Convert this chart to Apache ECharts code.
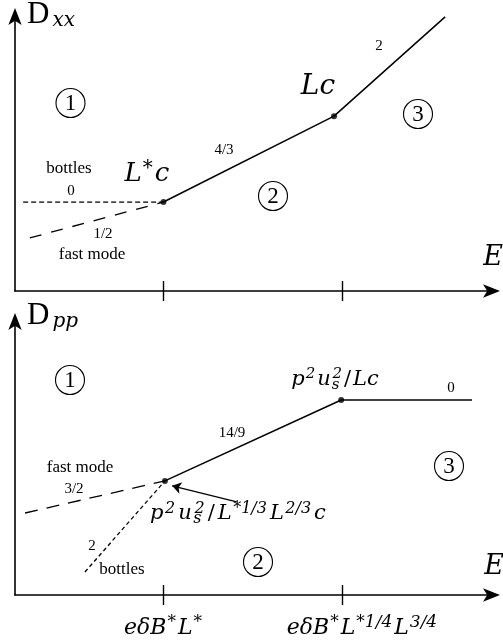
<!DOCTYPE html>
<html><head><meta charset="utf-8">
<script src="https://cdn.jsdelivr.net/npm/echarts@6/dist/echarts.min.js"></script>
<style>html,body{margin:0;padding:0;background:#fff}#c{width:503px;height:641px}</style>
</head><body><div id="c"></div>
<script>
// ---- Data (schematic units: x 0..100, y 0..100 in each panel) ----
const xTicks = [31, 68.3];
// Top panel: D_xx
const dxxBottles = [[1.7, 32.0], [31, 32.0]];
const dxxFastMode = [[3.1, 19.1], [31, 32.0]];
const dxxMain = [[31, 32.0], [66.6, 62.9], [89.8, 98.6]];
const dxxBreaks = [[31, 32.0], [66.6, 62.9]];
// Bottom panel: D_pp
const dppFastMode = [[2.1, 29.6], [31.3, 41.2]];
const dppBottles = [[14.6, 8.3], [31.3, 41.2]];
const dppMain = [[31.3, 41.2], [68.1, 70.4], [95.4, 70.4]];
const dppBreaks = [[31.3, 41.2], [68.1, 70.4]];
const dppPointer = [[46.3, 33.6], [32.8, 39.4]];
// Slope / regime labels
const slopesTop = ['0', '1/2', '4/3', '2'];
const slopesBottom = ['3/2', '2', '14/9', '0'];
const regions = ['1', '2', '3'];

const SERIF = "'Liberation Serif', 'Times New Roman', serif";
const MATH = "'DejaVu Serif', serif";
const chart = echarts.init(document.getElementById('c'), null, {renderer: 'canvas'});

function xAxes(gi) {
  const tick = {color: '#000', width: 1.4};
  return [
    {gridIndex: gi, type: 'value', min: 0, max: 100, position: 'bottom',
      axisLine: {show: true, onZero: false, symbol: ['none', 'arrow'], symbolSize: [10, 17], symbolOffset: [0, 6], lineStyle: {color: '#000', width: 1.6}},
      axisTick: {show: true, customValues: xTicks, length: 10, lineStyle: tick},
      axisLabel: {show: false}, splitLine: {show: false}},
    {gridIndex: gi, type: 'value', min: 0, max: 100, position: 'bottom',
      axisLine: {show: false, onZero: false},
      axisTick: {show: true, inside: true, customValues: xTicks, length: 10, lineStyle: tick},
      axisLabel: {show: false}, splitLine: {show: false}}
  ];
}
function yAxis(gi) {
  return {gridIndex: gi, type: 'value', min: 0, max: 100,
    axisLine: {show: true, onZero: false, symbol: ['none', 'arrow'], symbolSize: [10, 17], symbolOffset: [0, 5], lineStyle: {color: '#000', width: 1.6}},
    axisTick: {show: false}, axisLabel: {show: false}, splitLine: {show: false}};
}
function lineS(xi, yi, data, type, width) {
  return {type: 'line', xAxisIndex: xi, yAxisIndex: yi, data, showSymbol: false, silent: true,
    lineStyle: {color: '#000', width: width || 1.4, type: type || 'solid'}, z: 3};
}
function dots(xi, yi, data) {
  return {type: 'scatter', xAxisIndex: xi, yAxisIndex: yi, data, symbolSize: 6, silent: true,
    itemStyle: {color: '#000'}, z: 4};
}

function T(x, y, text, opt) {
  return {type: 'text', x, y, z: 10, silent: true,
    style: Object.assign({text, fontFamily: SERIF, fontSize: 16, fill: '#000', align: 'center', verticalAlign: 'middle'}, opt || {})};
}
function C(cx, cy, label) {
  return {type: 'group', silent: true, children: [
    {type: 'circle', shape: {cx, cy, r: 14.5}, style: {fill: 'none', stroke: '#000', lineWidth: 1.1}},
    T(cx, cy + 0.5, label, {fontSize: 23})
  ]};
}
// rich styles for math
function mathRich(size, sup, lh, gap) {
  const g = gap || 0;
  return {
    i: {fontFamily: MATH, fontStyle: 'italic', fontSize: size, lineHeight: lh, padding: [0, g, 0, g]},
    r: {fontFamily: MATH, fontSize: size, lineHeight: lh, padding: [0, g, 0, g]},
    sp: {fontFamily: MATH, fontStyle: 'italic', fontSize: sup, lineHeight: lh - 11, verticalAlign: 'top', padding: [0, g, 0, 0]},
    sq: {fontFamily: MATH, fontStyle: 'italic', fontSize: sup, lineHeight: lh - 11, verticalAlign: 'top', padding: [0, g, 0, -7]},
    sb: {fontFamily: MATH, fontStyle: 'italic', fontSize: sup, lineHeight: lh - 11, verticalAlign: 'bottom'}
  };
}

const graphics = [
  // axis titles
  T(27, 15, '{d|D}{s|xx}', {align: 'left', rich: {
    d: {fontFamily: SERIF, fontSize: 31, lineHeight: 32},
    s: {fontFamily: MATH, fontStyle: 'italic', fontSize: 20, lineHeight: 20, verticalAlign: 'bottom', padding: [0, 0, 0, 3]}}}),
  T(27, 316, '{d|D}{s|pp}', {align: 'left', rich: {
    d: {fontFamily: SERIF, fontSize: 31, lineHeight: 32},
    s: {fontFamily: MATH, fontStyle: 'italic', fontSize: 20, lineHeight: 18, verticalAlign: 'bottom', padding: [0, 0, 0, 3]}}}),
  T(493, 258, 'E', {fontSize: 27, fontFamily: MATH, fontStyle: 'italic'}),
  T(494, 567, 'E', {fontSize: 27, fontFamily: MATH, fontStyle: 'italic'}),
  // top panel labels
  T(147, 174, '{i|L}{sp|*}{i|c}', {rich: mathRich(26, 20, 30, 1)}),
  T(318, 87, '{i|Lc}', {rich: mathRich(28, 20, 30, 1)}),
  T(69, 169, 'bottles', {fontSize: 17}),
  T(71, 191, slopesTop[0], {fontSize: 15}),
  T(103, 234, slopesTop[1], {fontSize: 15}),
  T(92, 255, 'fast mode', {fontSize: 17}),
  T(224, 150, slopesTop[2], {fontSize: 15}),
  T(379, 46, slopesTop[3], {fontSize: 15}),
  C(70.5, 103, regions[0]), C(273, 196, regions[1]), C(418, 114, regions[2]),
  // bottom panel labels
  T(80, 468, 'fast mode', {fontSize: 17}),
  T(74, 489, slopesBottom[0], {fontSize: 15}),
  T(92, 546, slopesBottom[1], {fontSize: 15}),
  T(122, 570, 'bottles', {fontSize: 17}),
  T(232, 433, slopesBottom[2], {fontSize: 15}),
  T(451, 388, slopesBottom[3], {fontSize: 15}),
  T(335, 380, '{i|p}{sp|2}{i|u}{sb|s}{sq|2}{r|/}{i|Lc}', {rich: mathRich(21, 15, 26, 1)}),
  T(238, 514, '{i|p}{sp|2}{i|u}{sb|s}{sq|2}{r|/}{i|L}{sp|*1/3}{i|L}{sp|2/3}{i|c}', {rich: mathRich(21, 16, 26, 1.5)}),
  C(70, 380, regions[0]), C(258, 562, regions[1]), C(449, 466, regions[2]),
  // x tick labels
  T(163, 628, '{i|eδB}{sp|*}{i|L}{sp|*}', {rich: mathRich(22, 17, 28, 1)}),
  T(362, 628, '{i|eδB}{sp|*}{i|L}{sp|*1/4}{i|L}{sp|3/4}', {rich: mathRich(22, 17, 28, 1)})
];

chart.setOption({
  animation: false,
  backgroundColor: '#fff',
  grid: [
    {left: 15, top: 13, width: 479, height: 278},
    {left: 15, top: 318, width: 479, height: 277}
  ],
  xAxis: [...xAxes(0), ...xAxes(1)],
  yAxis: [yAxis(0), yAxis(1)],
  series: [
    lineS(0, 0, dxxBottles, [5, 3], 1.3),
    lineS(0, 0, dxxFastMode, [12, 10], 1.3),
    lineS(0, 0, dxxMain, 'solid', 1.5),
    dots(0, 0, dxxBreaks),
    lineS(2, 1, dppFastMode, [13, 9], 1.3),
    lineS(2, 1, dppBottles, [4, 3], 1.3),
    lineS(2, 1, dppMain, 'solid', 1.5),
    dots(2, 1, dppBreaks),
    {type: 'lines', coordinateSystem: 'cartesian2d', xAxisIndex: 2, yAxisIndex: 1, silent: true,
      symbol: ['none', 'arrow'], symbolSize: 9,
      lineStyle: {color: '#000', width: 1.2, opacity: 1},
      data: [{coords: dppPointer}], z: 5}
  ],
  graphic: graphics
});
</script></body></html>
